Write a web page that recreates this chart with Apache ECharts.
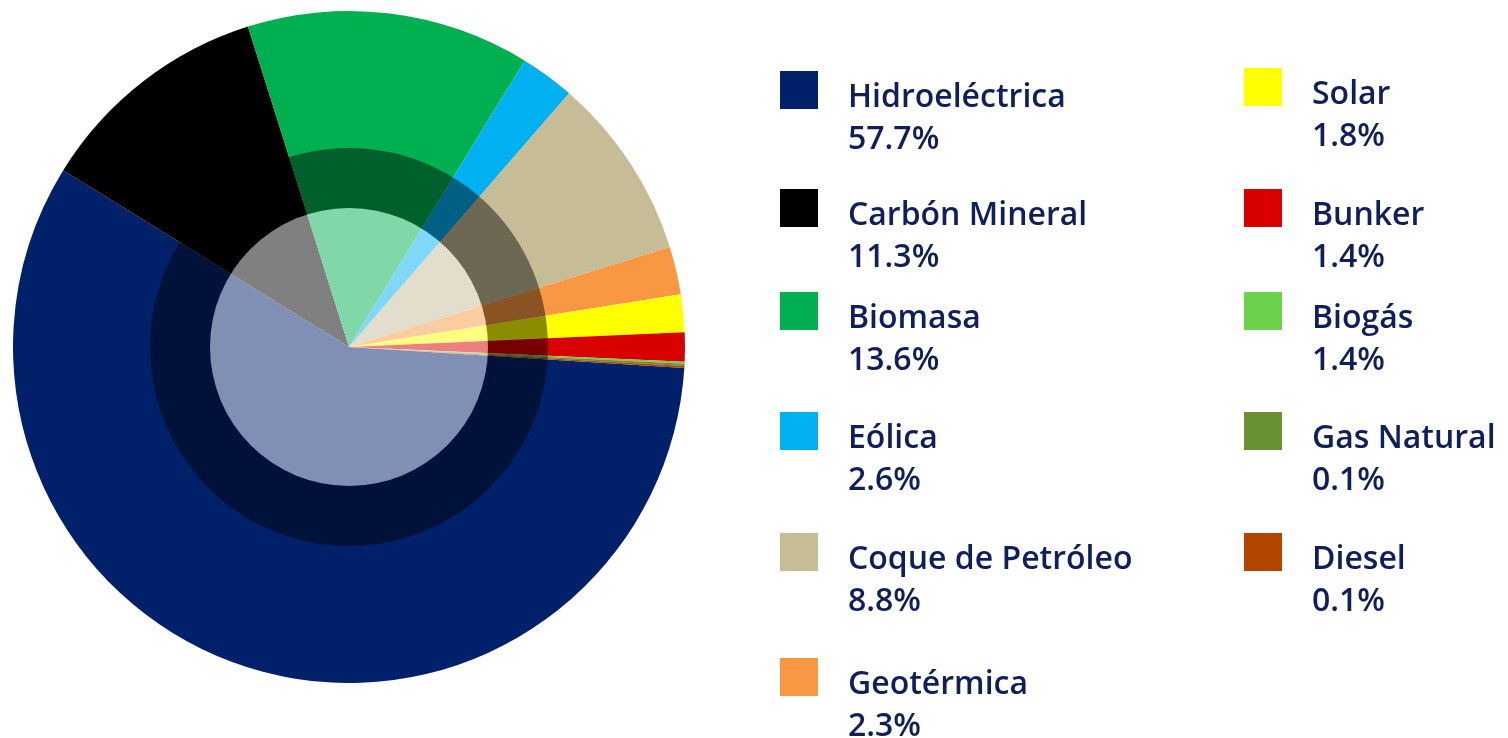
<!DOCTYPE html>
<html>
<head>
<meta charset="utf-8">
<script src="https://cdn.jsdelivr.net/npm/echarts@6/dist/echarts.min.js"></script>
<style>
  html, body { margin: 0; padding: 0; background: #fff; }
  #pie1 { width: 1508px; height: 738px; }
</style>
</head>
<body>
<div id="pie1"></div>
<script>
// fuentes de generación
const sources = ['Hidroeléctrica', 'Carbón Mineral', 'Biomasa', 'Eólica', 'Coque de Petróleo',
  'Geotérmica', 'Solar', 'Bunker', 'Biogás', 'Gas Natural', 'Diesel'];
// porcentajes de la leyenda
const shares = [57.7, 11.3, 13.6, 2.6, 8.8, 2.3, 1.8, 1.4, 1.4, 0.1, 0.1];
// tamaño de cada porción tal como se ve en el pastel (Biogás casi no aparece)
const sliceShares = [57.7, 11.3, 13.6, 2.6, 8.8, 2.3, 1.8, 1.4, 0.1, 0.1, 0.1];
const colors = ['#00216a', '#000000', '#00b050', '#00b0f0', '#c6bd97',
  '#f99843', '#ffff00', '#d80000', '#6dd24b', '#6a9232', '#b24600'];

const myChart = echarts.init(document.getElementById('pie1'));

const colLeft = [780, 1244];
const rowTop = [[72, 190, 293, 413, 534, 659], [69, 190, 293, 413, 534]];

const txt = { fontFamily: '"Open Sans", sans-serif', fontWeight: 600, fontSize: 32, color: '#0f1f5c', lineHeight: 42 };

const legends = sources.map((name, i) => {
  const col = i < 6 ? 0 : 1;
  const row = i < 6 ? i : i - 6;
  return {
    data: [name],
    left: colLeft[col],
    top: rowTop[col][row] - 1,
    padding: 0,
    itemWidth: 38,
    itemHeight: 38,
    itemGap: 0,
    icon: 'rect',
    selectedMode: false,
    formatter: n => '{n|' + n + '}\n{p|' + shares[sources.indexOf(n)] + '%}',
    textStyle: {
      padding: [58, 0, 0, 25],
      rich: { n: txt, p: txt }
    }
  };
});

const option = {
  animation: false,
  legend: legends,
  series: [
    {
      name: 'Generación',
      type: 'pie',
      center: [349, 347],
      radius: [0, 336],
      startAngle: -3.6,
      clockwise: true,
      label: { show: false },
      labelLine: { show: false },
      emphasis: { disabled: true },
      data: sources.map((name, i) => ({
        name: name,
        value: sliceShares[i],
        itemStyle: { color: colors[i] }
      }))
    },
    {
      type: 'pie',
      silent: true,
      center: [349, 347],
      radius: [139, 199],
      label: { show: false },
      labelLine: { show: false },
      data: [{ value: 1, name: '', itemStyle: { color: 'rgba(0,0,0,0.45)' } }]
    },
    {
      type: 'pie',
      silent: true,
      center: [349, 347],
      radius: [0, 139],
      label: { show: false },
      labelLine: { show: false },
      data: [{ value: 1, name: '', itemStyle: { color: 'rgba(255,255,255,0.5)' } }]
    }
  ]
};
myChart.setOption(option);
</script>
</body>
</html>
